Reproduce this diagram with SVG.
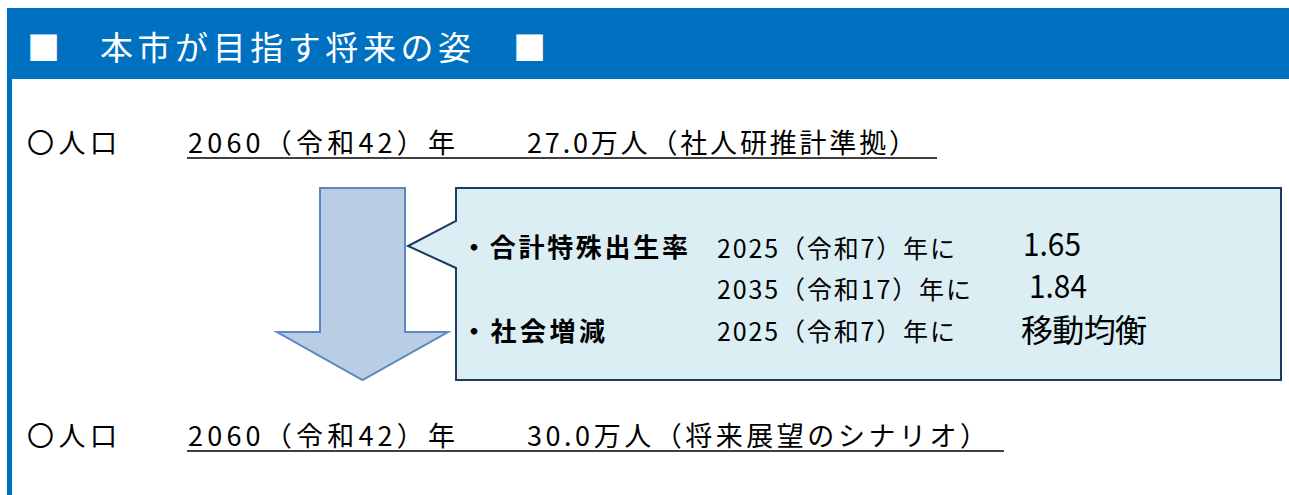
<svg xmlns="http://www.w3.org/2000/svg" width="1289" height="495" viewBox="0 0 1289 495">
<style>
  text { font-family: "Noto Sans CJK JP", "Noto Sans", sans-serif; fill: #000; }
  .hdr { fill: #fff; font-size: 33px; }
  .row { font-size: 27px; }
  .lbl { font-size: 26px; font-weight: bold; }
  .val { font-size: 25px; }
  .big { font-size: 32px; }
  .ul { stroke: #000; stroke-width: 1.6; }
</style>
<rect x="0" y="0" width="1289" height="495" fill="#fff"/>
<g id="frame">
  <rect x="7" y="8" width="1282" height="71" fill="#0070c0"/>
  <rect x="7" y="79" width="5" height="416" fill="#0070c0"/>
</g>
<g id="header">
  <text class="hdr" x="27" y="60">■</text>
  <text class="hdr" x="100" y="60" textLength="371" lengthAdjust="spacing">本市が目指す将来の姿</text>
  <text class="hdr" x="513" y="60">■</text>
</g>
<g id="row-current">
  <text class="row" x="27" y="153" textLength="90" lengthAdjust="spacing">〇人口</text>
  <text class="row" x="188" y="153" textLength="267" lengthAdjust="spacing">2060（令和42）年</text>
  <text class="row" x="527" y="153" textLength="389" lengthAdjust="spacing">27.0万人（社人研推計準拠）</text>
  <line class="ul" x1="187" y1="158" x2="937" y2="158"/>
</g>
<g id="connectors">
  <path id="down-arrow" d="M320,188 H405 V332 H448 L362.5,380 L277,332 H320 Z" fill="#b9cde5" stroke="#5b87c4" stroke-width="2" stroke-linejoin="miter"/>
</g>
<g id="callout">
  <path d="M456,188 H1281 V380 H456 V268 L408,246 L456,221 Z" fill="#dbeef4" stroke="#1f3864" stroke-width="2"/>
  <text class="lbl" x="461" y="257" textLength="227" lengthAdjust="spacing">・合計特殊出生率</text>
  <text class="val" x="717" y="258" textLength="238" lengthAdjust="spacing">2025（令和7）年に</text>
  <text class="big" x="1023" y="256" textLength="58" lengthAdjust="spacingAndGlyphs">1.65</text>
  <text class="val" x="717" y="299" textLength="254" lengthAdjust="spacing">2035（令和17）年に</text>
  <text class="big" x="1029" y="298" textLength="58" lengthAdjust="spacingAndGlyphs">1.84</text>
  <text class="lbl" x="461" y="341" textLength="144" lengthAdjust="spacing">・社会増減</text>
  <text class="val" x="717" y="341" textLength="238" lengthAdjust="spacing">2025（令和7）年に</text>
  <text class="big" x="1021" y="342" textLength="126" lengthAdjust="spacing">移動均衡</text>
</g>
<g id="row-future">
  <text class="row" x="27" y="446" textLength="90" lengthAdjust="spacing">〇人口</text>
  <text class="row" x="188" y="446" textLength="267" lengthAdjust="spacing">2060（令和42）年</text>
  <text class="row" x="527" y="446" textLength="460" lengthAdjust="spacing">30.0万人（将来展望のシナリオ）</text>
  <line class="ul" x1="187" y1="451" x2="1004" y2="451"/>
</g>
</svg>
